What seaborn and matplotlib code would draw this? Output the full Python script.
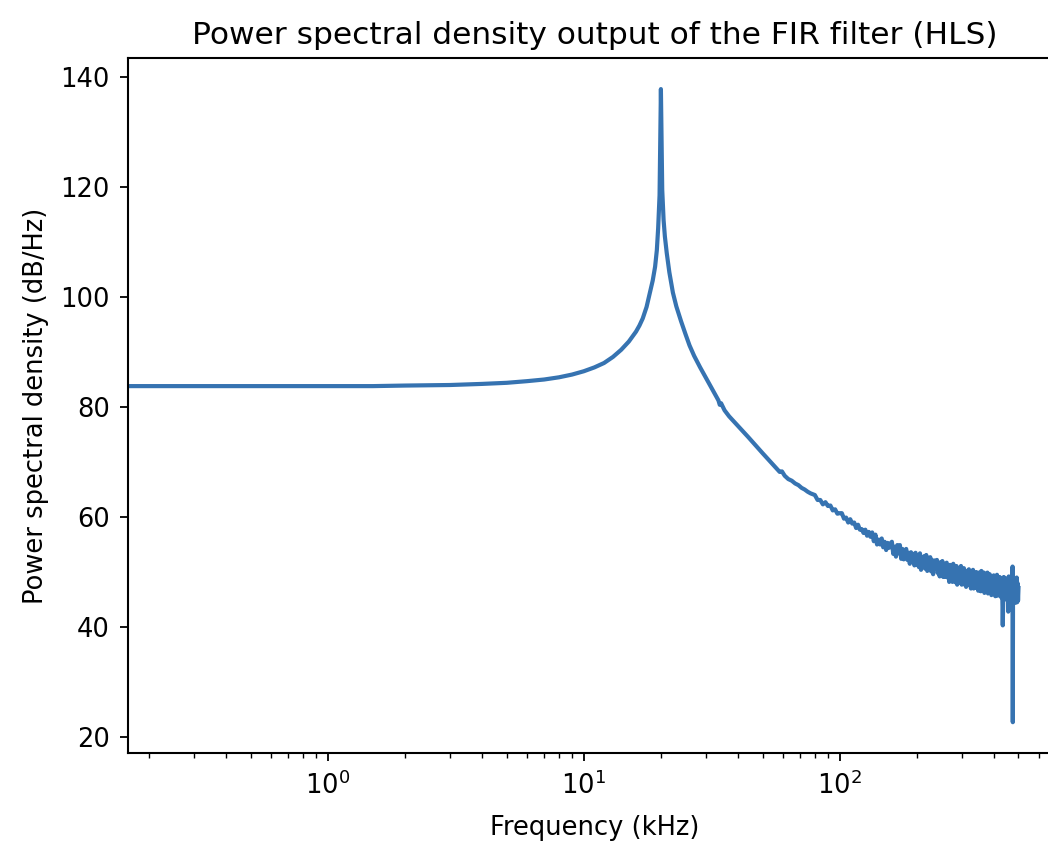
import numpy as np
import pandas as pd
import matplotlib
matplotlib.use("Agg")
import matplotlib.pyplot as plt
import seaborn as sns

# ---- data (frequency in kHz, PSD in dB/Hz) ----
freq_smooth = [0.0, 0.244, 0.5, 1.0, 1.5, 2.0, 3.0, 4.0, 5.0, 6.0, 7.0, 8.0, 9.0,
               10.0, 11.0, 12.0, 13.0, 14.0, 15.0, 15.5, 16.0, 16.5, 17.0,
               17.6, 18.1, 18.6, 19.0, 19.3, 19.53, 19.78, 20.02, 20.26,
               20.51, 20.75, 21.1, 21.6, 22.3, 23.0, 24.0, 25.0, 25.9, 27.0,
               28.5, 30.2, 32.0, 33.6, 34.0, 34.4, 35.5, 37.0, 40.7, 44.0,
               47.4, 50.0, 53.0, 56.0, 58.3, 59.5, 61.0, 63.0, 65.0, 67.0,
               69.0, 71.0, 73.0, 75.0, 77.0]
psd_smooth = [83.8, 83.8, 83.8, 83.8, 83.8, 83.9, 84.0, 84.2, 84.4, 84.7, 85.0, 85.4, 85.9,
              86.5, 87.2, 88.0, 89.1, 90.4, 91.9, 92.8, 93.7, 94.8, 96.1,
              98.2, 100.6, 103.0, 105.5, 108.5, 112.5, 118.5, 137.8, 119.5,
              114.0, 111.0, 108.0, 104.5, 100.8, 98.3, 95.6, 93.2, 91.2, 89.3,
              87.2, 85.1, 83.0, 81.2, 80.4, 80.7, 79.4, 78.3, 76.2, 74.5,
              72.8, 71.6, 70.3, 69.1, 68.2, 68.3, 67.5, 66.9, 66.6, 66.1,
              65.8, 65.3, 65.0, 64.6, 64.3]

freq_noisy = [80, 82, 84, 86, 88, 90, 92, 94, 96, 98,
              100, 102, 104, 106, 108, 110, 112, 114, 116, 118,
              120, 122, 124, 126, 128, 130, 132, 134, 136, 138,
              140, 142, 144, 146, 148, 150, 152, 154, 156, 158,
              160, 162, 164, 166, 168, 170, 172, 174, 176, 178,
              180, 182, 184, 186, 188, 190, 192, 194, 196, 198,
              200, 202, 204, 206, 208, 210, 212, 214, 216, 218,
              220, 222, 224, 226, 228, 230, 232, 234, 236, 238,
              240, 242, 244, 246, 248, 250, 252, 254, 256, 258,
              260, 262, 264, 266, 268, 270, 272, 274, 276, 278,
              280, 282, 284, 286, 288, 290, 292, 294, 296, 298,
              300, 302, 304, 306, 308, 310, 312, 314, 316, 318,
              320, 322, 324, 326, 328, 330, 332, 334, 336, 338,
              340, 342, 344, 346, 348, 350, 352, 354, 356, 358,
              360, 362, 364, 366, 368, 370, 372, 374, 376, 378,
              380, 382, 384, 386, 388, 390, 392, 394, 396, 398,
              400, 402, 404, 406, 408, 410, 412, 414, 416, 418,
              420, 422, 424, 426, 428, 430, 432, 434, 436, 438,
              440, 442, 444, 446, 448, 450, 452, 454, 456, 458,
              460, 462, 464, 466, 468, 470, 472, 474, 475, 476, 478,
              480, 482, 484, 486, 488, 490, 492, 494, 496, 498, 500]
psd_noisy = [64.0, 63.1, 63.1, 62.3, 62.7, 62.0, 62.1, 61.2, 61.4, 60.6,
             60.7, 60.7, 59.7, 59.9, 59.0, 59.6, 58.8, 59.0, 58.0, 58.6,
             57.7, 57.8, 57.1, 57.7, 56.6, 57.3, 56.4, 57.2, 55.6, 56.8,
             55.0, 55.9, 55.0, 56.1, 54.5, 55.5, 54.0, 55.3, 54.4, 55.2,
             55.5, 53.3, 54.6, 52.8, 54.9, 53.4, 54.9, 52.4, 54.2, 52.3,
             53.5, 54.2, 52.2, 53.5, 51.5, 53.6, 52.0, 53.3, 51.2, 53.5,
             51.3, 52.6, 50.9, 53.4, 50.4, 52.6, 51.4, 52.9, 50.6, 53.1,
             50.2, 52.1, 50.7, 52.7, 50.1, 52.1, 49.6, 52.1, 50.7, 52.1,
             52.2, 49.8, 51.3, 49.2, 51.8, 50.1, 52.0, 49.1, 51.2, 49.1,
             50.6, 51.7, 49.0, 50.9, 48.2, 51.3, 49.2, 51.0, 48.2, 51.5,
             48.6, 50.1, 48.1, 51.1, 47.7, 50.3, 48.9, 50.8, 48.1, 51.1,
             47.7, 50.0, 48.3, 50.7, 47.7, 50.1, 47.3, 50.2, 48.6, 50.3,
             50.5, 47.6, 49.5, 47.0, 50.1, 48.2, 50.4, 47.0, 49.6, 47.1,
             48.9, 50.0, 47.4, 49.2, 46.6, 49.9, 47.5, 49.6, 46.5, 50.2,
             47.0, 48.7, 46.6, 49.9, 46.2, 49.0, 47.4, 49.6, 46.6, 49.9,
             46.1, 48.7, 46.9, 49.6, 46.2, 49.0, 45.8, 49.1, 47.3, 49.2,
             49.4, 46.2, 48.4, 45.6, 49.1, 46.9, 49.5, 45.7, 48.6, 45.8,
             47.8, 49.1, 46.2, 48.3, 45.4, 48.8, 46.4, 40.3, 45.4, 49.1,
             45.9, 47.7, 45.5, 48.8, 45.0, 48.2, 46.3, 48.8, 42.8, 49.2,
             44.8, 47.8, 45.7, 48.9, 45.0, 48.2, 44.5, 51.0, 22.7, 46.3, 48.6,
             48.8, 45.1, 47.6, 44.4, 48.5, 46.0, 49.0, 44.5, 48.0, 44.8, 47.1]

title = "Power spectral density output of the FIR filter (HLS)"
xlabel = "Frequency (kHz)"
ylabel = "Power spectral density (dB/Hz)"
yticks = [20, 40, 60, 80, 100, 120, 140]

df = pd.DataFrame({"freq": freq_smooth + freq_noisy,
                   "psd": psd_smooth + psd_noisy})

plt.rcParams.update({
    "font.family": ["DejaVu Sans"],
    "font.size": 18.5,
    "axes.linewidth": 1.5,
    "xtick.major.size": 6, "ytick.major.size": 6,
    "xtick.minor.size": 3.5, "ytick.minor.size": 3.5,
    "xtick.major.width": 1.3, "ytick.major.width": 1.3,
    "xtick.minor.width": 1.0,
    "xtick.major.pad": 7, "ytick.major.pad": 7,
})

fig = plt.figure(figsize=(10.48, 8.41), dpi=100)
ax = fig.add_axes([128 / 1048, (841 - 753) / 841, (1061 - 128) / 1048, (753 - 58) / 841])

# plot on a linear axis first, then switch to log (DC point is clipped to the left edge)
sns.lineplot(data=df, x="freq", y="psd", ax=ax, sort=False, estimator=None,
             color="#3673b1", linewidth=3.0)

ax.set_xscale("log")
ax.set_xlim(0.1655, 733)
ax.set_ylim(17.1, 143.45)
ax.set_yticks(yticks)
ax.set_title(title, fontsize=22.5, pad=10)
ax.set_xlabel(xlabel, fontsize=18.5, labelpad=11)
ax.set_ylabel(ylabel, fontsize=18.5, labelpad=8)

fig.savefig("out.png", dpi=100)
